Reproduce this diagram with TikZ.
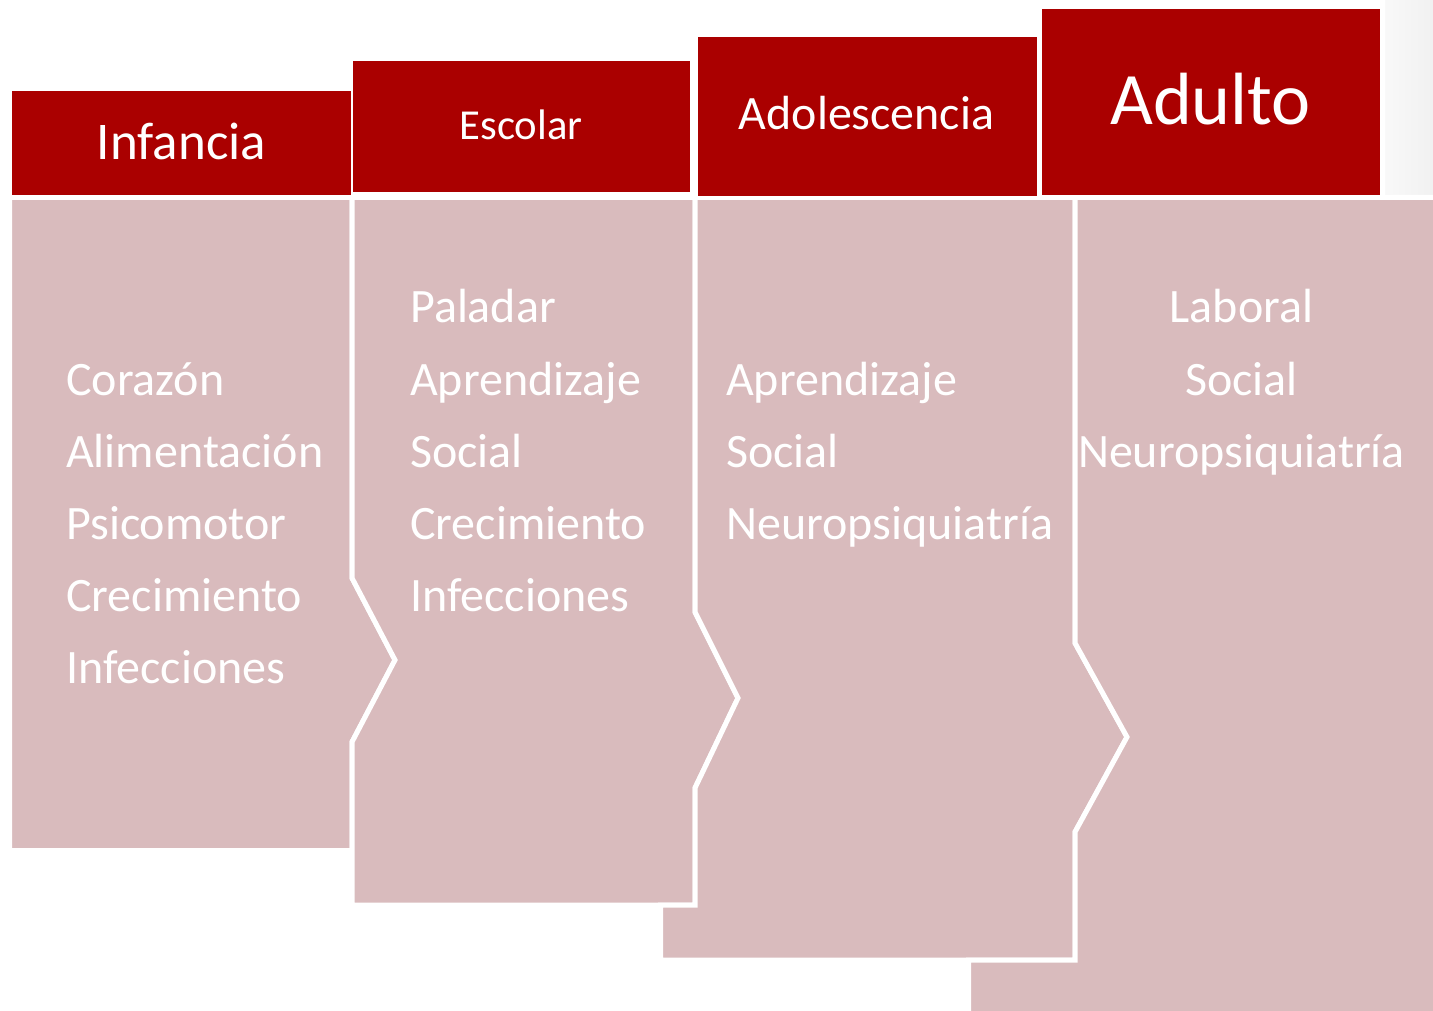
\documentclass[tikz,border=0pt]{standalone}
\usepackage{fontspec}
\setmainfont{Carlito}
\definecolor{hdrred}{RGB}{170,0,0}
\definecolor{bodypink}{RGB}{217,187,189}
\begin{document}
\begin{tikzpicture}[x=1pt,y=-1pt,
  hdr/.style={fill=hdrred},
  bodyshape/.style={fill=bodypink,draw=white,line width=5pt,line join=miter},
  htext/.style={text=white,inner sep=0pt,anchor=base},
  itemL/.style={text=white,inner sep=0pt,anchor=base west,font=\fontsize{48}{56}\selectfont},
  itemC/.style={text=white,inner sep=0pt,anchor=base,font=\fontsize{48}{56}\selectfont},
]
\useasboundingbox (0,0) rectangle (1433,1011);
\fill[white] (0,0) rectangle (1433,1011);
% faint grey at top right
\shade[left color=gray!5,right color=gray!11] (1385,0) rectangle (1433,197);

% bodies
\path[bodyshape] (9.5,197.5) -- (352,197.5) -- (352,578) -- (395,660) -- (352,742) -- (352,850.5) -- (9.5,850.5) -- cycle;
\path[bodyshape] (352,197.5) -- (695,197.5) -- (695,612) -- (738,698) -- (695,788) -- (695,905) -- (352,905) -- (352,742) -- (395,660) -- (352,578) -- cycle;
\path[bodyshape] (695,197.5) -- (1075,197.5) -- (1075,643) -- (1127,737) -- (1075,832) -- (1075,960) -- (660.5,960) -- (660.5,905) -- (695,905) -- (695,788) -- (738,698) -- (695,612) -- cycle;
\path[bodyshape] (1075,197.5) -- (1436,197.5) -- (1436,1014) -- (968.5,1014) -- (968.5,960) -- (1075,960) -- (1075,832) -- (1127,737) -- (1075,643) -- cycle;

% headers
\path[hdr] (12,91) rectangle (351,195);
\path[hdr] (353,61) rectangle (690,192);
\path[hdr] (698,37) rectangle (1037,196);
\path[hdr] (1042,9.5) rectangle (1380,195);

\node[htext,font=\fontsize{53}{60}\selectfont] (h1) at (181.5,160) {Infancia};
\node[htext,font=\fontsize{42.7}{50}\selectfont] (h2) at (521,140) {Escolar};
\node[htext,font=\fontsize{47.9}{56}\selectfont] (h3) at (866.5,130) {Adolescencia};
\node[htext,font=\fontsize{74}{84}\selectfont] (h4) at (1210.5,125) {Adulto};

% body 1
\node[itemL] (a1) at (66,395) {Corazón};
\node[itemL] (a2) at (66,467) {Alimentación};
\node[itemL] (a3) at (66,539) {Psicomotor};
\node[itemL] (a4) at (66,611) {Crecimiento};
\node[itemL] (a5) at (66,683) {Infecciones};
% body 2
\node[itemL] (b1) at (410,323) {Paladar};
\node[itemL] (b2) at (410,395) {Aprendizaje};
\node[itemL] (b3) at (410,467) {Social};
\node[itemL] (b4) at (410,539) {Crecimiento};
\node[itemL] (b5) at (410,611) {Infecciones};
% body 3
\node[itemL] (c1) at (726,395) {Aprendizaje};
\node[itemL] (c2) at (726,467) {Social};
\node[itemL] (c3) at (726,539) {Neuropsiquiatría};
% body 4
\node[itemC] (d1) at (1241.5,323) {Laboral};
\node[itemC] (d2) at (1241.5,395) {Social};
\node[itemC] (d3) at (1241.5,467) {Neuropsiquiatría};
\end{tikzpicture}
\end{document}
